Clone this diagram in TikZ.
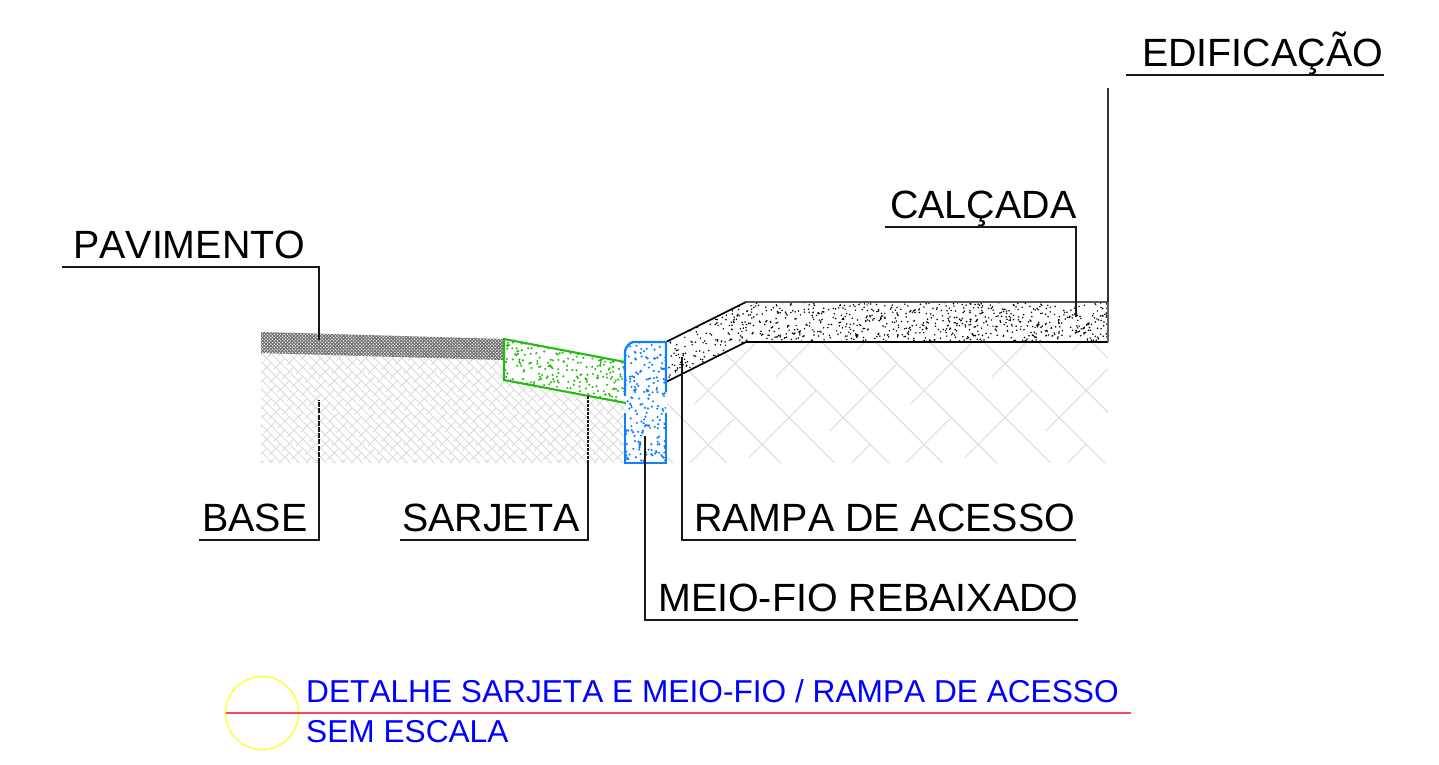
\documentclass[tikz,border=0pt]{standalone}
\usepackage{fontspec}
\setmainfont[Kerning=Off]{Liberation Sans}
\definecolor{hatchc}{RGB}{220,220,220}
\definecolor{cblue}{RGB}{16,128,255}
\definecolor{cgreen}{RGB}{40,185,20}
\definecolor{tblue}{RGB}{0,0,255}
\definecolor{pavc}{RGB}{105,105,105}
\definecolor{cred}{RGB}{255,70,90}
\definecolor{cyel}{RGB}{255,255,40}
\newcommand{\herring}[5]{% d, x0, y0, umax, line width
 \begin{scope}[shift={(#2,#3)},x={(#1pt,-#1pt)},y={(#1pt,#1pt)}]
  \draw[hatchc,line width=#5pt] \foreach \u in {-#4,...,#4}{ (-#4,\u+0.5) -- (#4,\u+0.5) };
  \foreach \v in {-#4,...,#4}{
    \pgfmathtruncatemacro\s{mod(mod(2*\v,4)+4,4)}
    \pgfmathtruncatemacro\st{-#4-mod(#4,4)+\s}
    \pgfmathtruncatemacro\nx{\st+4}
    \draw[hatchc,line width=#5pt] \foreach \u in {\st,\nx,...,#4}{ (\v,\u) -- (\v,\u+2.5) };
  }
 \end{scope}}
\newcommand{\specks}[7]{% n, x0, y0, w, h, colour, radius
 \fill[#6] \foreach \i in {1,...,#1}{ ({#2+rnd*#4},{#3+rnd*#5}) circle (#7) };}
\tikzset{
 lbl/.style={anchor=base west,inner sep=0pt,font=\fontsize{39.4}{39.4}\selectfont,text=black},
 ttl/.style={anchor=base west,inner sep=0pt,font=\fontsize{31.65}{31.65}\selectfont,text=tblue},
 leader/.style={black!90,line width=1.9pt},
 outl/.style={black,line width=1.7pt},
}
\begin{document}
\begin{tikzpicture}[x=1pt,y=-1pt]
\useasboundingbox (0,0) rectangle (1439,764);
\fill[white] (0,0) rectangle (1439,764);
\pgfmathsetseed{4711}
\begin{scope}
 \clip (261,353) -- (504,360) -- (504,380) -- (626,403) -- (626,463) -- (261,463) -- cycle;
 \herring{4.5}{440}{410}{56}{1.0}
\end{scope}
\begin{scope}
 \clip (667,382) -- (746,342) -- (1108,342) -- (1108,463) -- (667,463) -- cycle;
 \herring{27}{856.7}{350}{20}{1.0}
\end{scope}
\begin{scope}
 \clip (261,332) -- (504,339) -- (504,360) -- (261,353) -- cycle;
 \fill[pavc] (261,330) rectangle (504,362);
 \fill[white!85!pavc] \foreach \i in {0,...,73}{ \foreach \j in {0,...,10}{
   ({261+\i*3.3},{331+\j*3.3}) circle (0.85)
   ({262.65+\i*3.3},{332.65+\j*3.3}) circle (0.85) } };
\end{scope}
\begin{scope}
 \clip (504,339) -- (625,362) -- (626,403) -- (504,380) -- cycle;
 \specks{300}{504}{339}{122}{64}{cgreen}{1.15}
\end{scope}
\draw[cgreen,line width=2.1pt] (626,403) -- (504,380) -- (504,339) -- (625,362);
\begin{scope}
 \clip (666,342) -- (746,302) -- (1108,302) -- (1108,342) -- (746,342) -- (666,382) -- cycle;
 \specks{270}{666}{302}{80}{80}{black}{0.85}
 \specks{750}{746}{302}{362}{40}{black}{0.85}
\end{scope}
\draw[outl] (666,342) -- (746,302);
\draw[black!65,line width=1.7pt] (746,302) -- (1108,302);
\draw[outl] (1108,342) -- (746,342) -- (666,382);
\draw[black!60,line width=1.5pt] (1108,302) -- (1108,342);
\begin{scope}
 \clip (625,342) rectangle (666,463);
 \specks{190}{625}{342}{41}{121}{cblue}{1.2}
\end{scope}
\draw[cblue,line width=2.3pt] (625,396) -- (625,351) .. controls (626,347) and (629,343) .. (633,342) -- (666,342) -- (666,392);
\draw[cblue,line width=2.3pt] (625,413) -- (625,463) -- (666,463) -- (666,413);
\node[lbl] (pav) at (73,258) {PAVIMENTO};
\node[lbl] (bas) at (202,531) {BASE};
\node[lbl] (sar) at (402,531) {SARJETA};
\node[lbl] (ram) at (694,531) {RAMPA DE ACESSO};
\node[lbl] (mei) at (658,611) {MEIO-FIO REBAIXADO};
\node[lbl] (cal) at (890,218) {CALÇADA};
\node[lbl] (edi) at (1142,66) {EDIFICAÇÃO};
\coordinate (p0) at (62,267); \coordinate (p1) at (319,267); \coordinate (p2) at (319,340);
\draw[leader] (p0) -- (p1) -- (p2);
\coordinate (b0) at (199,540); \coordinate (b1) at (319,540); \coordinate (b2) at (319,463); \coordinate (b3) at (319,400);
\draw[leader] (b0) -- (b1) -- (b2);
\draw[leader,dash pattern=on 5pt off 1.2pt] (b2) -- (b3);
\coordinate (s0) at (400,540); \coordinate (s1) at (588,540); \coordinate (s2) at (588,463); \coordinate (s3) at (588,395);
\draw[leader] (s0) -- (s1) -- (s2);
\draw[leader,dash pattern=on 3pt off 1pt] (s2) -- (s3);
\coordinate (r0) at (1076,540); \coordinate (r1) at (682,540); \coordinate (r2) at (682,357);
\draw[leader] (r0) -- (r1) -- (r2);
\coordinate (m0) at (1078,620); \coordinate (m1) at (645,620); \coordinate (m2) at (645,436);
\draw[leader] (m0) -- (m1) -- (m2);
\coordinate (c0) at (885,227); \coordinate (c1) at (1076,227); \coordinate (c2) at (1076,317);
\draw[leader] (c0) -- (c1) -- (c2);
\coordinate (e0) at (1126,75); \coordinate (e1) at (1384,75); \coordinate (e2) at (1108,88); \coordinate (e3) at (1108,302);
\draw[leader] (e0) -- (e1);
\draw[black!80,line width=1.2pt] (e2) -- (e3);
\node[draw=cyel,line width=1.3pt,circle,minimum size=73pt,inner sep=0pt] (circ) at (262,713) {};
\coordinate (t0) at (226,713); \coordinate (t1) at (1131,713);
\fill[cred] (226,712.45) rectangle (1131,713.55);
\node[ttl] (t1a) at (306,702.5) {DETALHE SARJETA E MEIO-FIO / RAMPA DE ACESSO};
\node[ttl] (t2a) at (306,742.5) {SEM ESCALA};
\end{tikzpicture}
\end{document}
